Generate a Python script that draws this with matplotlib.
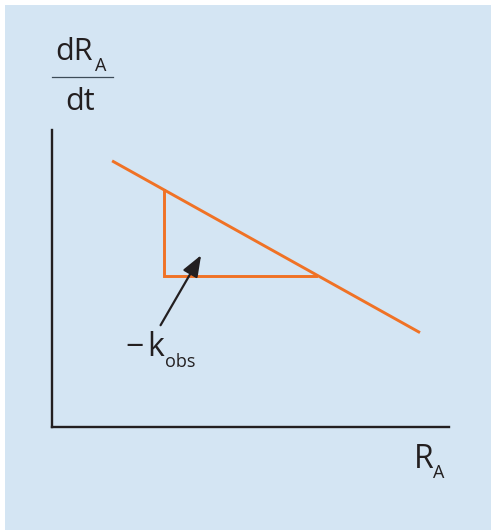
import matplotlib
matplotlib.use("Agg")
import matplotlib.pyplot as plt
from matplotlib.patches import Rectangle
from matplotlib.lines import Line2D

# Schematic rate plot: dR_A/dt versus R_A (arbitrary units)
line_ra = [1.52, 9.27]          # R_A at the ends of the rate line
line_rate = [8.96, 3.17]        # dR_A/dt at the ends of the rate line
tri_ra = [2.83, 2.83, 6.65]     # slope triangle: top, corner, right
tri_rate = [7.99, 5.09, 5.09]
arrow_tail = (2.74, 3.42)       # (R_A, rate) of the label end of the arrow
arrow_tip = (3.76, 5.78)        # (R_A, rate) of the arrow head

W, H, DPI = 491, 530, 100
BG = "#d4e5f3"
ORANGE = "#f07225"
INK = "#231f20"
FONT = "Open Sans"

fig = plt.figure(figsize=(W / DPI, H / DPI), dpi=DPI, facecolor="white")

# light blue panel behind everything
fig.patches.append(Rectangle((5 / W, 0), 1 - 5 / W, 1 - 5 / H,
                             transform=fig.transFigure, facecolor=BG,
                             edgecolor="none", zorder=-10))

# axes box aligned with the two drawn axis lines
x0, x1 = 51.7, 449.0
y_bot, y_top = 426.7, 130.0
ax = fig.add_axes([x0 / W, 1 - y_bot / H, (x1 - x0) / W, (y_bot - y_top) / H])
ax.set_zorder(1)
ax.set_facecolor("none")
ax.set_xlim(0, 10)
ax.set_ylim(0, 10)
for side in ("top", "right"):
    ax.spines[side].set_visible(False)
for side in ("left", "bottom"):
    ax.spines[side].set_color(INK)
    ax.spines[side].set_linewidth(1.7)
ax.set_xticks([])
ax.set_yticks([])

ax.plot(line_ra, line_rate, color=ORANGE, lw=2.1, solid_capstyle="butt", clip_on=False)
ax.plot(tri_ra, tri_rate, color=ORANGE, lw=2.1, solid_joinstyle="miter", clip_on=False)

ax.annotate("", xy=arrow_tip, xytext=arrow_tail,
            arrowprops=dict(arrowstyle="-|>,head_length=1.3,head_width=0.5",
                            color=INK, lw=1.6, shrinkA=0, shrinkB=0))


def put(x, y, s, size):
    fig.text(x / W, 1 - y / H, s, fontsize=size, color=INK, family=FONT,
             ha="left", va="baseline", zorder=2)


# y-axis label as a fraction
put(55, 60, "dR", 22)
put(95, 71, "A", 13)
fig.add_artist(Line2D([52 / W, 113 / W], [1 - 77 / H, 1 - 77 / H],
                      transform=fig.transFigure, color="#3d4c58", lw=0.9))
put(65, 110, "dt", 22)

# slope label
put(125, 356, "\u2212", 23)
put(147, 356, "k", 23)
put(165, 367, "obs", 13)

# x-axis label
put(414, 468, "R", 23)
put(433, 478, "A", 13)

fig.savefig("out.png", dpi=DPI, facecolor="white")
